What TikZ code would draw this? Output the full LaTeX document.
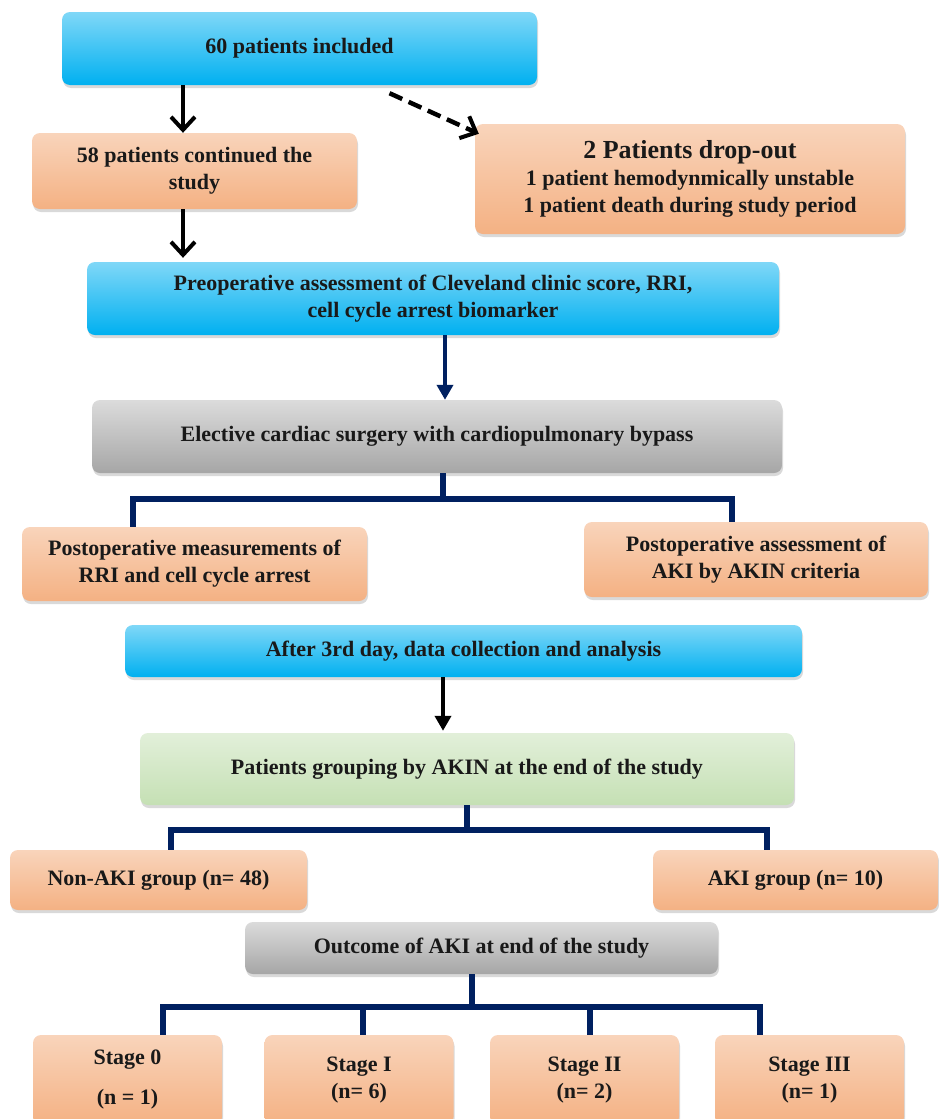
\documentclass[tikz,border=0pt]{standalone}
\usepackage{fontspec}
\setmainfont{Liberation Serif}
\usetikzlibrary{arrows.meta,shadows,calc}
\definecolor{cblue}{RGB}{0,176,240}
\definecolor{corange}{RGB}{244,177,131}
\definecolor{cgray}{RGB}{166,166,166}
\definecolor{cgreen}{RGB}{197,224,180}
\definecolor{navyline}{RGB}{0,32,96}
\tikzset{
  box/.style={rectangle,rounded corners=8pt,align=center,inner sep=2pt,text=black!90,font=\bfseries\fontsize{22}{27}\selectfont,drop shadow={shadow xshift=1pt,shadow yshift=-3pt,opacity=0.3}},
  bluebox/.style={box,top color=cblue!50!white,bottom color=cblue},
  orangebox/.style={box,top color=corange!55!white,bottom color=corange},
  graybox/.style={box,top color=cgray!40!white,bottom color=cgray},
  greenbox/.style={box,top color=cgreen!50!white,bottom color=cgreen},
  arr/.style={line width=4pt,-{Straight Barb[length=13pt,width=24pt,line width=4pt]}},
  darr/.style={arr,line width=4.5pt,dash pattern=on 14pt off 7pt},
  farr/.style={line width=4pt,-{Triangle[length=15pt,width=16pt]}},
  brk/.style={line width=6pt,navyline,line join=miter}
}
\begin{document}
\begin{tikzpicture}[x=1pt,y=-1pt]
  \useasboundingbox (0,0) rectangle (939,1119);
  \node[bluebox,minimum width=475pt,minimum height=73pt] (inc) at (299.5,48.5) {60 patients included};
  \node[orangebox,minimum width=325pt,minimum height=76pt] (cont) at (194.5,171) {58 patients continued the\\study};
  \node[orangebox,minimum width=430pt,minimum height=110pt] (drop) at (690,179) {{\fontsize{26}{30}\selectfont 2 Patients drop-out}\\1 patient hemodynmically unstable\\1 patient death during study period};
  \node[bluebox,minimum width=692pt,minimum height=73pt] (pre) at (433,298.5) {Preoperative assessment of Cleveland clinic score, RRI,\\cell cycle arrest biomarker};
  \node[graybox,minimum width=690pt,minimum height=73pt] (elec) at (437,436.5) {Elective cardiac surgery with cardiopulmonary bypass};
  \node[orangebox,minimum width=345pt,minimum height=74pt] (pm) at (194.5,564) {Postoperative measurements of\\RRI and cell cycle arrest};
  \node[orangebox,minimum width=344pt,minimum height=75pt] (pa) at (756,559.5) {Postoperative assessment of\\AKI by AKIN criteria};
  \node[bluebox,minimum width=677pt,minimum height=52pt] (after) at (463.5,651) {After 3rd day, data collection and analysis};
  \node[greenbox,minimum width=654pt,minimum height=72pt] (grp) at (467,769) {Patients grouping by AKIN at the end of the study};
  \node[orangebox,minimum width=297pt,minimum height=60pt] (nonaki) at (158.5,880) {Non-AKI group (n= 48)};
  \node[orangebox,minimum width=285pt,minimum height=60pt] (aki) at (795.5,880) {AKI group (n= 10)};
  \node[graybox,minimum width=473pt,minimum height=52pt] (outc) at (481.5,948) {Outcome of AKI at end of the study};
  \node[orangebox,minimum width=189pt,minimum height=90pt] (s0) at (127.5,1080) {Stage 0\\[13pt](n = 1)};
  \node[orangebox,minimum width=189pt,minimum height=90pt] (s1) at (359,1080) {Stage I\\(n= 6)};
  \node[orangebox,minimum width=189pt,minimum height=90pt] (s2) at (584.5,1080) {Stage II\\(n= 2)};
  \node[orangebox,minimum width=189pt,minimum height=90pt] (s3) at (809.5,1080) {Stage III\\(n= 1)};
  \coordinate (c1) at (183,0); \coordinate (c2) at (445,0); \coordinate (c3) at (443,0);
  \draw[arr] (inc.south -| c1) -- (cont.north -| c1);
  \draw[arr,shorten >=4pt] (cont.south -| c1) -- (pre.north -| c1);
  \draw[darr] ($(inc.south)+(90,8)$) -- ($(drop.north west)+(4,10)$);
  \draw[farr,navyline] (pre.south -| c2) -- (elec.north -| c2);
  \draw[farr,shorten >=2pt] (after.south -| c3) -- (grp.north -| c3);
  \coordinate (j1) at (443,499); \coordinate (l1) at (133,499); \coordinate (r1) at (732,499);
  \draw[brk] (elec.south -| j1) -- (j1);
  \draw[brk] (pm.north -| l1) -- (l1) -- (r1) -- (pa.north -| r1);
  \coordinate (j2) at (467,830); \coordinate (l2) at (171,830); \coordinate (r2) at (767,830);
  \draw[brk] (grp.south -| j2) -- (j2);
  \draw[brk] (nonaki.north -| l2) -- (l2) -- (r2) -- (aki.north -| r2);
  \coordinate (j3) at (472,1007); \coordinate (l3) at (163,1007); \coordinate (r3) at (760,1007);
  \coordinate (m1) at (363,1007); \coordinate (m2) at (590,1007);
  \draw[brk] (outc.south -| j3) -- (j3);
  \draw[brk] (s0.north -| l3) -- (l3) -- (r3) -- (s3.north -| r3);
  \draw[brk] (s1.north -| m1) -- (m1); \draw[brk] (s2.north -| m2) -- (m2);
\end{tikzpicture}
\end{document}
